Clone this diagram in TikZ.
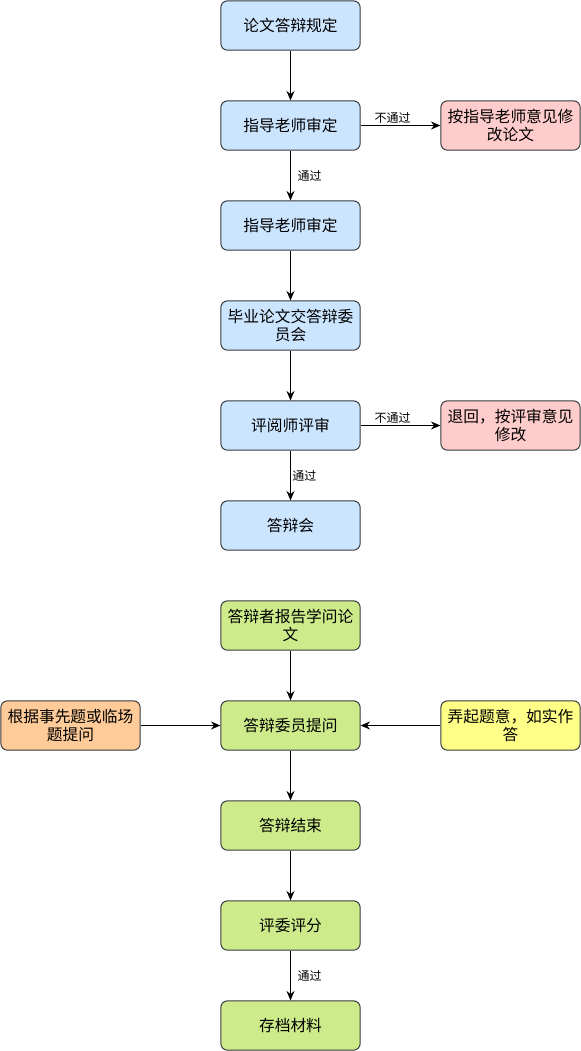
\documentclass[tikz,border=0pt]{standalone}
\usepackage{fontspec}
\setmainfont{Noto Sans CJK SC}
\usetikzlibrary{arrows.meta}

\definecolor{boxline}{HTML}{36393D}
\definecolor{bluefill}{HTML}{CCE5FF}
\definecolor{redfill}{HTML}{FFCCCC}
\definecolor{greenfill}{HTML}{CDEB8B}
\definecolor{orangefill}{HTML}{FFCC99}
\definecolor{yellowfill}{HTML}{FFFF88}

\begin{document}
\begin{tikzpicture}[x=0.75pt,y=-0.75pt,
	box/.style={draw=boxline, line width=0.75pt, rounded corners=5pt,
		minimum width=104.5pt, minimum height=37pt, inner sep=1pt,
		align=center, font=\fontsize{11.8}{14}\selectfont},
	arr/.style={-{Stealth[length=7pt,width=6pt]}, line width=0.75pt},
	lab/.style={font=\fontsize{9}{10}\selectfont, fill=white, inner sep=1pt}]
	\useasboundingbox (0,0) rectangle (581,1051);

	% main column
	\foreach \n/\y/\c/\t in {rule/25.5/bluefill/论文答辩规定,
		tutorA/125.5/bluefill/指导老师审定,
		tutorB/225.5/bluefill/指导老师审定,
		commit/325.5/bluefill/{毕业论文交答辩委\\员会},
		review/425.5/bluefill/评阅师评审,
		meet/525.5/bluefill/答辩会,
		report/625.5/greenfill/{答辩者报告学问论\\文},
		ask/725.5/greenfill/答辩委员提问,
		finish/825.5/greenfill/答辩结束,
		score/925.5/greenfill/评委评分,
		store/1025.5/greenfill/存档材料}
		\node[box, fill=\c] (\n) at (290.5,\y) {\t};

	% side boxes
	\node[box, fill=redfill] (fixA) at (510.5,125.5) {按指导老师意见修\\改论文};
	\node[box, fill=redfill] (fixB) at (510.5,425.5) {退回，按评审意见\\修改};
	\node[box, fill=orangefill] (src) at (70.5,725.5) {根据事先题或临场\\题提问};
	\node[box, fill=yellowfill] (reply) at (510.5,725.5) {弄起题意，如实作\\答};

	\foreach \a/\b in {rule/tutorA, tutorB/commit, commit/review, report/ask, ask/finish, finish/score}
		\draw[arr] (\a) -- (\b);
	\draw[arr] (tutorA) -- node[lab, right=4pt] {通过} (tutorB);
	\draw[arr] (review) -- node[lab, right=0pt] {通过} (meet);
	\draw[arr] (score) -- node[lab, right=4pt] {通过} (store);
	\draw[arr] (tutorA) -- node[lab, above, pos=0.4] {不通过} (fixA);
	\draw[arr] (review) -- node[lab, above, pos=0.4] {不通过} (fixB);
	\draw[arr] (src) -- (ask);
	\draw[arr] (reply) -- (ask);
\end{tikzpicture}
\end{document}
